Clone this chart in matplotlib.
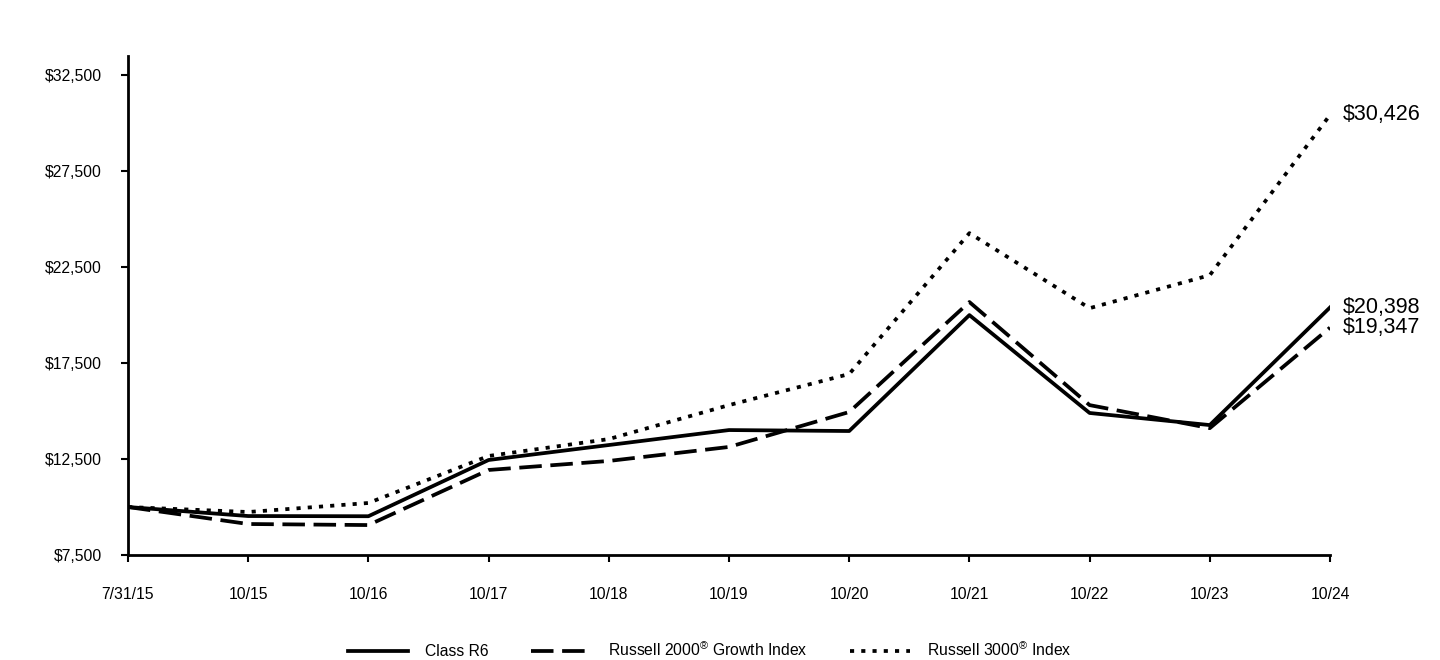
import numpy as np
import matplotlib.pyplot as plt

plt.rcParams['font.family'] = ['Liberation Sans', 'DejaVu Sans']
plt.rcParams['mathtext.fontset'] = 'custom'
plt.rcParams['mathtext.rm'] = 'Liberation Sans'

# data
dates = ['7/31/15', '10/15', '10/16', '10/17', '10/18', '10/19',
         '10/20', '10/21', '10/22', '10/23', '10/24']
class_r6 = [10000, 9530, 9520, 12450, 13230, 14010, 13960, 20000, 14900, 14270, 20398]
r2000g = [10000, 9115, 9060, 11930, 12400, 13130, 14950, 20680, 15310, 14110, 19347]
r3000 = [10000, 9740, 10210, 12660, 13540, 15310, 16930, 24270, 20360, 22080, 30426]
yticks = [7500, 12500, 17500, 22500, 27500, 32500]

fig = plt.figure(figsize=(14.4, 6.6), dpi=100)
ax = fig.add_axes([128/1440, 1-555/660, (1330-128)/1440, (555-56)/660])

x = np.arange(len(dates))
lw = 2.7
ax.plot(x, class_r6, color='black', lw=lw, label='Class R6')
ax.plot(x, r2000g, color='black', lw=lw, dashes=(6, 2.3),
        label='Russell 2000$^{®}$ Growth Index')
ax.plot(x, r3000, color='black', lw=lw, dashes=(1.1, 1.9), dash_capstyle='butt',
        label='Russell 3000$^{®}$ Index')

for series in (class_r6, r2000g, r3000):
    ax.annotate('${:,}'.format(series[-1]), (x[-1], series[-1]), xytext=(9, 0),
                textcoords='offset points', va='center', ha='left', fontsize=15.5)

ax.set_xlim(0, len(dates)-1)
ax.set_ylim(7500, 33500)
ax.set_xticks(x)
ax.set_xticklabels(dates)
ax.set_yticks(yticks)
ax.set_yticklabels(['${:,}'.format(v) for v in yticks])
ax.tick_params(axis='x', length=5, width=1.5, pad=18, labelsize=11.3)
ax.tick_params(axis='y', length=5, width=1.5, pad=14, labelsize=11.3)
for s in ['top', 'right']:
    ax.spines[s].set_visible(False)
for s in ['left', 'bottom']:
    ax.spines[s].set_linewidth(2)

ax.legend(loc='center', bbox_to_anchor=(710/1440, 1-650/660), bbox_transform=fig.transFigure,
          ncol=3, frameon=False, fontsize=11.3, handlelength=3.8, columnspacing=2.7,
          handletextpad=1.1)

fig.savefig('out.png', dpi=100)
